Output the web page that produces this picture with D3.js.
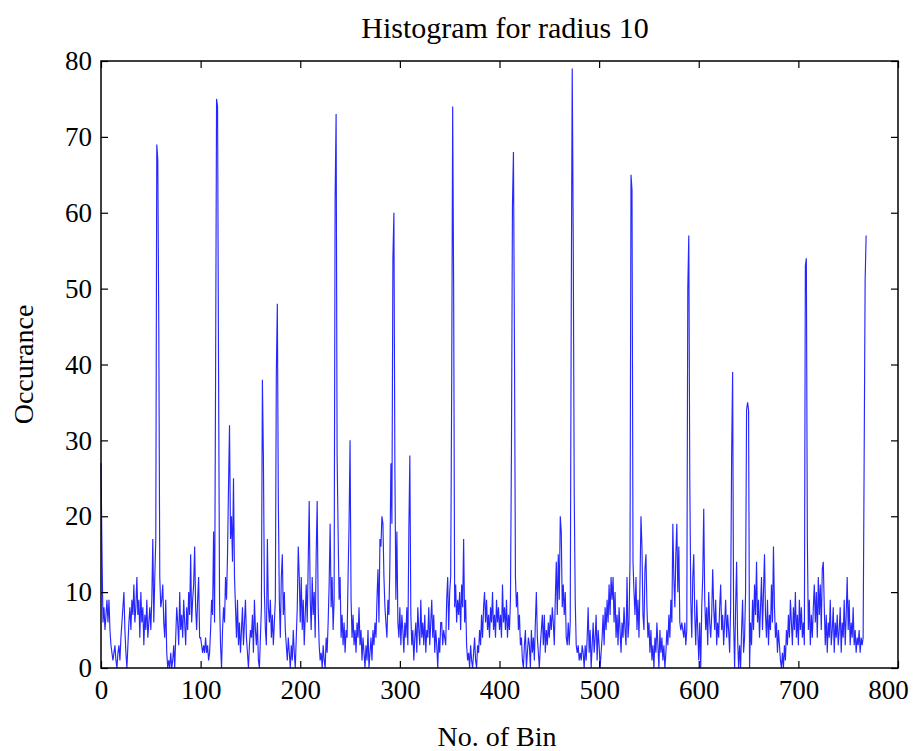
<!DOCTYPE html>
<html>
<head>
<meta charset="utf-8">
<script src="https://cdn.jsdelivr.net/npm/d3@7"></script>
<style>
  body { margin: 0; background: #fff; }
  text { font-family: "Liberation Serif", "Times New Roman", serif; fill: #000; }
</style>
</head>
<body>
<svg id="chart" width="916" height="751"></svg>
<script>
var chartTitle = "Histogram for radius 10";
var xLabel = "No. of Bin";
var yLabel = "Occurance";
var xTicks = [0, 100, 200, 300, 400, 500, 600, 700, 800];
var yTicks = [0, 10, 20, 30, 40, 50, 60, 70, 80];

// occurrence per bin, roughly 100 bins per array
var bins000 = [
  27,15,6,8,5,7,9,6,9,5, 3,2,1,2,3,1,0,2,3,1, 4,6,8,10,5,2,0,3,6,8, 5,9,7,11,6,8,12,7,9,4, 10,6,8,3,7,5,9,4,6,8,
  5,9,17,6,12,17,69,67,45,12, 8,9,11,6,4,9,2,0,1,0, 2,0,1,3,0,4,8,6,3,10, 5,7,4,9,6,3,8,5,10,7, 15,6,9,11,16,8,5,9,12,4
];
var bins100 = [
  4,3,2,3,2,4,2,3,1,2,5, 9,7,18,6,38,75,74,39,9,3, 0,5,8,6,12,9,15,24,32,17, 20,14,25,12,8,4,9,3,6,2, 5,8,3,6,9,4,2,0,3,5,
  4,7,2,9,5,3,6,1,0,4, 8,38,28,10,5,3,17,8,6,9, 4,7,3,6,9,39,48,22,9,4, 12,15,7,10,5,3,1,4,2,0, 3,1,5,2,0,4,8,16,12,6
];
var bins200 = [
  12,5,9,3,7,11,6,14,22,9, 5,12,7,10,4,15,22,8,3,1, 2,0,3,1,0,4,2,6,11,19, 8,12,5,9,62,73,28,18,9,12, 4,7,3,6,2,5,4,12,19,30,
  9,4,7,3,5,2,6,4,8,3, 5,1,4,2,0,3,1,5,0,2, 4,1,5,3,6,4,9,13,6,17, 16,20,19,12,8,6,4,9,7,14,27, 19,54,60,26,9,18,6,4,8,3
];
var bins300 = [
  7,5,2,6,4,8,3,18,28,7, 3,5,1,4,6,2,8,5,3,9, 4,6,3,7,2,5,4,8,3,6, 9,4,7,2,5,3,0,4,2,6, 6,3,5,4,3,9,12,5,10,12,37,
  74,49,8,11,6,9,7,10,5,11, 8,17,6,9,3,1,2,0,3,1, 0,2,4,1,0,3,2,5,3,7, 4,8,10,6,9,5,7,4,8,6, 10,5,7,4,9,6,8,5,7,4
];
var bins400 = [
  11,6,8,5,9,4,7,5,9,29, 61,68,43,12,8,10,5,7,3,4, 1,0,3,5,0,2,4,3,0,5, 2,4,1,6,10,4,2,0,3,5, 7,3,7,2,5,3,6,4,7,5,
  8,6,3,9,14,7,15,9,20,18, 8,11,7,10,4,3,6,3,6,47, 79,57,23,9,3,2,3,1,2,1, 3,2,0,3,1,4,8,2,5,0, 3,6,2,4,7,1,5,3,0,2
];
var bins500 = [
  4,7,3,8,5,9,6,11,7,12, 9,12,6,10,4,7,3,8,5,2, 6,4,8,5,3,12,4,6,14,65, 63,14,10,7,12,5,9,4,11,20, 16,7,5,13,15,8,4,6,2,5,
  1,3,0,4,2,6,3,0,5,2, 4,1,3,0,2,5,3,7,4,9, 6,19,12,8,15,19,10,16,6,5, 6,5,4,6,3,5,50,57,25,9, 4,12,15,7,3,9,5,1,6,0
];
var bins600 = [
  8,12,21,9,5,8,3,10,6,4, 7,13,8,5,9,3,6,4,8,11, 5,7,3,6,9,4,7,5,2,8, 28,39,6,0,8,14,4,0,3,0, 5,9,2,4,10,34,35,34,0,6,
  3,9,5,11,7,14,6,9,4,8, 12,5,10,15,7,4,9,3,7,5, 11,6,16,8,4,6,2,5,3,1, 0,2,0,3,1,5,3,7,4,9, 6,3,8,5,10,4,7,3,9,5
];
var bins700 = [
  8,4,6,3,53,54,17,5,9,3, 7,4,8,11,6,10,4,12,7,11, 5,13,14,8,3,7,2,6,4,9, 3,5,8,2,6,4,7,3,5,8, 2,6,4,9,3,7,12,5,9,3,
  6,4,8,3,5,2,4,3,5,2, 4,3,4,27,51,57
];

var counts = [].concat(bins000, bins100, bins200, bins300, bins400, bins500, bins600, bins700);

var svg = d3.select("#chart");
var plotLeft = 101, plotRight = 898, plotTop = 61, plotBottom = 668;

var x = d3.scaleLinear().domain([0, 800]).range([plotLeft, plotRight]);
var y = d3.scaleLinear().domain([0, 80]).range([plotBottom, plotTop]);

// data line
var line = d3.line()
  .x(function(d, i) { return x(i); })
  .y(function(d) { return y(d); });

svg.append("path")
  .datum(counts)
  .attr("d", line)
  .attr("fill", "none")
  .attr("stroke", "#0000ff")
  .attr("stroke-width", 1.15)
  .attr("stroke-opacity", 0.85);

// axes, MATLAB style: ticks inward on all four sides
var fontSize = 27;
var gx = svg.append("g").attr("transform", "translate(0," + plotBottom + ")")
  .call(d3.axisBottom(x).tickValues(xTicks).tickSizeInner(-7).tickSizeOuter(0).tickPadding(12));
var gy = svg.append("g").attr("transform", "translate(" + plotLeft + ",0)")
  .call(d3.axisLeft(y).tickValues(yTicks).tickSizeInner(-7).tickSizeOuter(0).tickPadding(9));
var gt = svg.append("g").attr("transform", "translate(0," + plotTop + ")")
  .call(d3.axisTop(x).tickValues(xTicks).tickSizeInner(-7).tickSizeOuter(0).tickFormat(""));
var gr = svg.append("g").attr("transform", "translate(" + plotRight + ",0)")
  .call(d3.axisRight(y).tickValues(yTicks).tickSizeInner(-7).tickSizeOuter(0).tickFormat(""));

[gx, gy, gt, gr].forEach(function(g) {
  g.select(".domain").remove();
  g.selectAll(".tick line").attr("stroke", "#000").attr("stroke-width", 1.2);
  g.selectAll(".tick text").attr("font-size", fontSize).attr("font-family", "Liberation Serif").attr("fill", "#000");
});
// last x label pulled in so it stays inside the picture, as in the original
gx.selectAll(".tick text").filter(function(d) { return d === 800; }).attr("dx", -10);

// box
svg.append("rect")
  .attr("x", plotLeft).attr("y", plotTop)
  .attr("width", plotRight - plotLeft).attr("height", plotBottom - plotTop)
  .attr("fill", "none").attr("stroke", "#000").attr("stroke-width", 1.5);

// labels
svg.append("text")
  .attr("x", 505).attr("y", 38)
  .attr("text-anchor", "middle").attr("font-size", 30)
  .text(chartTitle);

svg.append("text")
  .attr("x", 497).attr("y", 746)
  .attr("text-anchor", "middle").attr("font-size", 28)
  .text(xLabel);

svg.append("text")
  .attr("transform", "translate(33," + ((plotTop + plotBottom) / 2) + ") rotate(-90)")
  .attr("text-anchor", "middle").attr("font-size", 28)
  .text(yLabel);
</script>
</body>
</html>
